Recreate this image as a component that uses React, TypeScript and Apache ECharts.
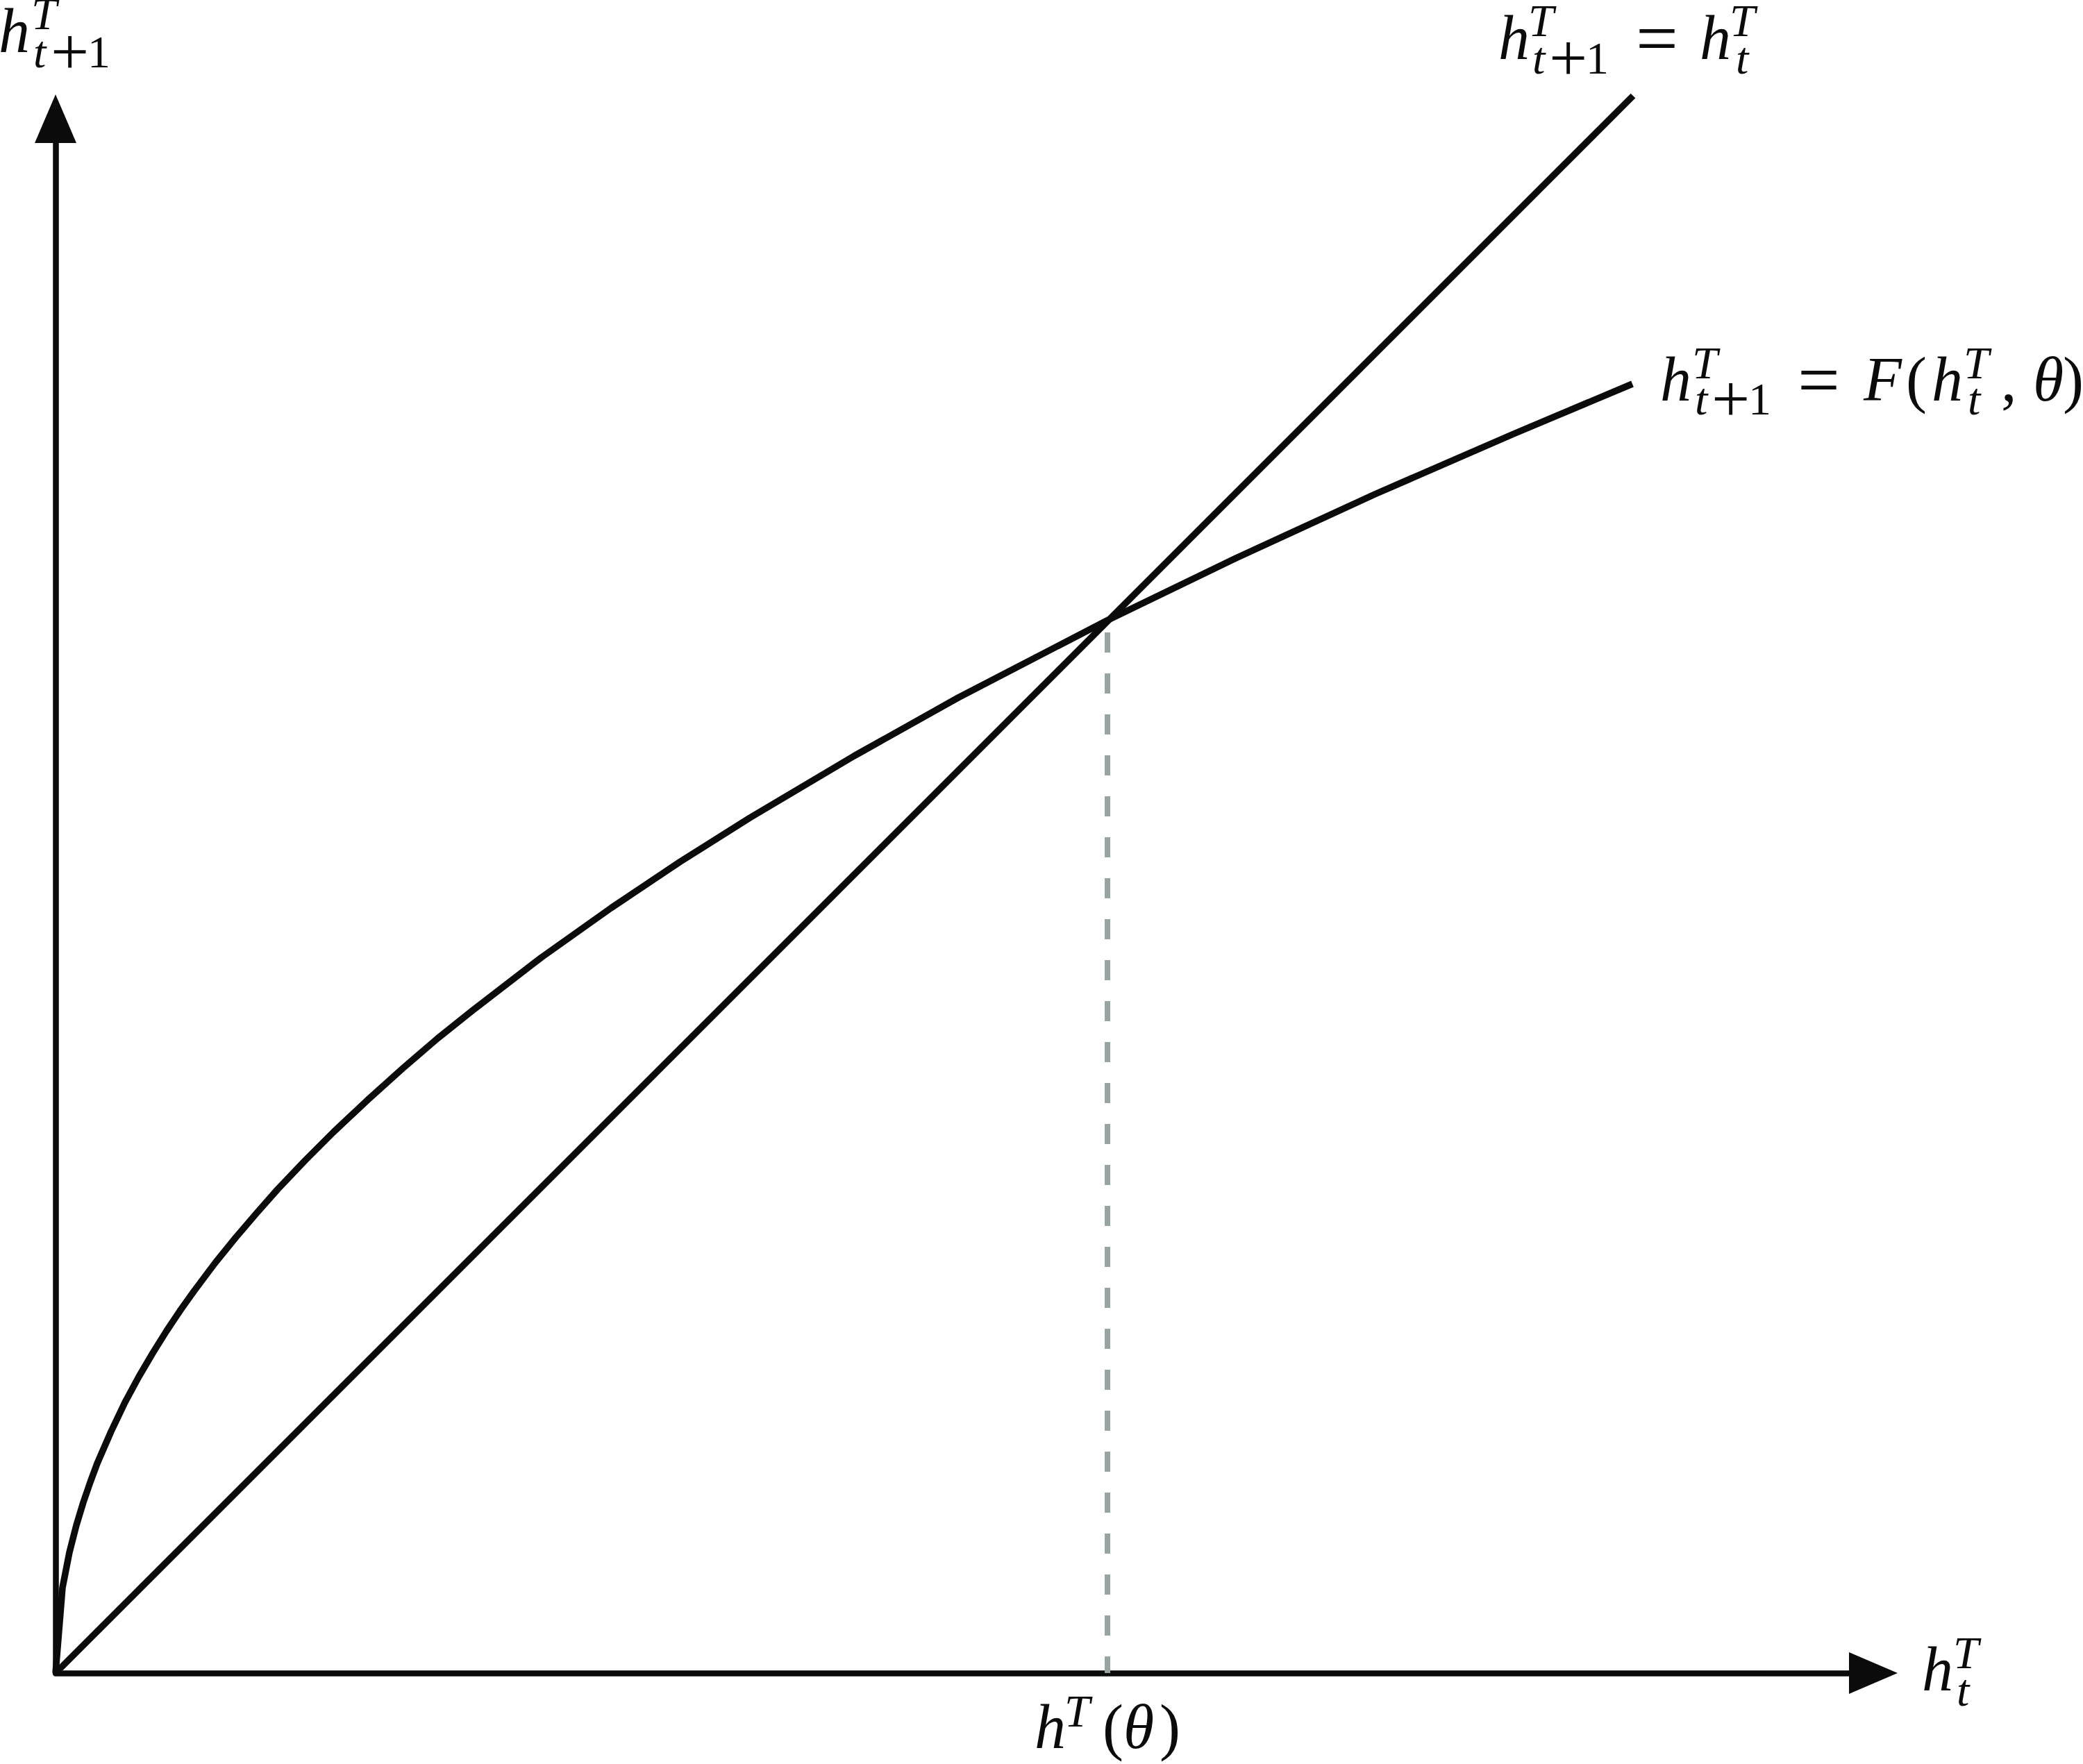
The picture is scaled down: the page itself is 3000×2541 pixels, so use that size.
import React, { useEffect, useRef } from "react";
import * as echarts from "echarts";

// ---- data (1 unit = 10 px of the reference) ----
const X_MAX = 261.8;
const Y_MAX = 223.9;

// 45-degree line h_{t+1} = h_t
const diagonalX = [0, 227.2];
const diagonalY = [0, 227.2];

// concave law of motion h_{t+1} = F(h_t, theta)
const curveX = [0, 1, 2, 3, 4, 5, 6, 8, 10, 12, 14, 16, 18, 20, 23, 26, 29, 32, 36, 40, 45, 50, 55, 60, 70, 80, 90, 100, 115, 130, 151.4, 170, 190, 210, 227.1];
const curveY = [0, 12.3, 17.4, 21.3, 24.6, 27.5, 30.2, 34.8, 39.0, 42.7, 46.1, 49.3, 52.3, 55.1, 59.1, 62.8, 66.3, 69.7, 73.9, 77.9, 82.6, 87.1, 91.4, 95.4, 103.1, 110.2, 116.9, 123.2, 132.1, 140.5, 151.6, 160.6, 169.8, 178.5, 185.7];

// steady state h^T(theta): dashed guide
const steadyX = [151.5, 151.5];
const steadyY = [149.9, 0];

const INK = "#0b0b0c";
const GUIDE = "#97a5a2";

type Part = [string, number, number, number, "i" | "n"];

function partsToGraphic(parts: Part[]) {
  return parts.map(([text, x, base, size, kind]) => {
    const style = kind === "i" ? "italic" : "normal";
    const font = `${style} ${size}px "Liberation Serif"`;
    return {
      type: "text",
      x,
      y: base - 0.3375 * size,
      silent: true,
      style: {
        text,
        font,
        fill: INK,
        textAlign: "left",
        textVerticalAlign: "middle",
        align: "left",
        verticalAlign: "middle",
      },
    };
  });
}

export default function App() {
  const ref = useRef<HTMLDivElement>(null);
  useEffect(() => {
    if (!ref.current) return;
    const chart = echarts.init(ref.current, undefined, { renderer: "svg" });
    const M = 90;
    const S = 66;
    const P = 98; // "+" drawn larger to match the TeX glyph
    const E = 108; // "=" drawn larger to match the TeX glyph
    const labelY: Part[] = [
      ["h", -2, 75, M, "i"], ["T", 45, 42, S, "i"], ["t", 48, 97, S, "i"], ["+", 73, 107, P, "n"], ["1", 126, 97, S, "n"],
    ];
    const labelDiag: Part[] = [
      ["h", 2158, 85, M, "i"], ["T", 2201, 52, S, "i"], ["t", 2207, 106, S, "i"], ["+", 2231, 116, P, "n"], ["1", 2284, 106, S, "n"],
      ["=", 2356, 91, E, "n"], ["h", 2448, 85, M, "i"], ["T", 2491, 52, S, "i"], ["t", 2500, 106, S, "i"],
    ];
    const labelF: Part[] = [
      ["h", 2391, 577, M, "i"], ["T", 2437, 545, S, "i"], ["t", 2441, 597, S, "i"], ["+", 2465, 607, P, "n"], ["1", 2518, 597, S, "n"],
      ["=", 2589, 583, E, "n"], ["F", 2684, 577, M, "i"], ["(", 2745, 577, M, "n"], ["h", 2782, 577, M, "i"], ["T", 2828, 545, S, "i"],
      ["t", 2834, 597, S, "i"], [",", 2882, 577, M, "n"], ["θ", 2928, 577, M, "i"], [")", 2971, 577, M, "n"],
    ];
    const labelX: Part[] = [
      ["h", 2768, 2435, M, "i"], ["T", 2813, 2403, S, "i"], ["t", 2818, 2457, S, "i"],
    ];
    const labelSteady: Part[] = [
      ["h", 1490, 2518, M, "i"], ["T", 1533, 2487, S, "i"], ["(", 1588, 2518, M, "n"], ["θ", 1618, 2518, M, "i"], [")", 1670, 2518, M, "n"],
    ];

    const axisCommon = {
      type: "value" as const,
      min: 0,
      axisLine: {
        show: true,
        symbol: ["none", "triangle"],
        symbolSize: [60, 70],
        lineStyle: { color: INK, width: 8.5 },
      },
      axisTick: { show: false },
      axisLabel: { show: false },
      splitLine: { show: false },
    };

    chart.setOption({
      animation: false,
      backgroundColor: "#ffffff",
      grid: { left: 80, right: 302, top: 171, bottom: 131, containLabel: false },
      xAxis: { ...axisCommon, max: X_MAX },
      yAxis: { ...axisCommon, max: Y_MAX },
      series: [
        {
          type: "line",
          data: steadyX.map((x, i) => [x, steadyY[i]]),
          showSymbol: false,
          clip: false,
          lineStyle: { color: GUIDE, width: 8, type: [29, 30] },
          z: 1,
        },
        {
          type: "line",
          data: diagonalX.map((x, i) => [x, diagonalY[i]]),
          showSymbol: false,
          clip: false,
          lineStyle: { color: INK, width: 9.5 },
          z: 2,
        },
        {
          type: "line",
          data: curveX.map((x, i) => [x, curveY[i]]),
          showSymbol: false,
          clip: false,
          smooth: false,
          lineStyle: { color: INK, width: 9.5, join: "round" },
          z: 3,
        },
      ],
      graphic: [
        ...partsToGraphic(labelY),
        ...partsToGraphic(labelDiag),
        ...partsToGraphic(labelF),
        ...partsToGraphic(labelX),
        ...partsToGraphic(labelSteady),
      ],
    });
    return () => chart.dispose();
  }, []);
  return (
    <div
      ref={ref}
      style={{ position: "fixed", left: 0, top: 0, width: 3000, height: 2541, background: "#fff" }}
    />
  );
}
